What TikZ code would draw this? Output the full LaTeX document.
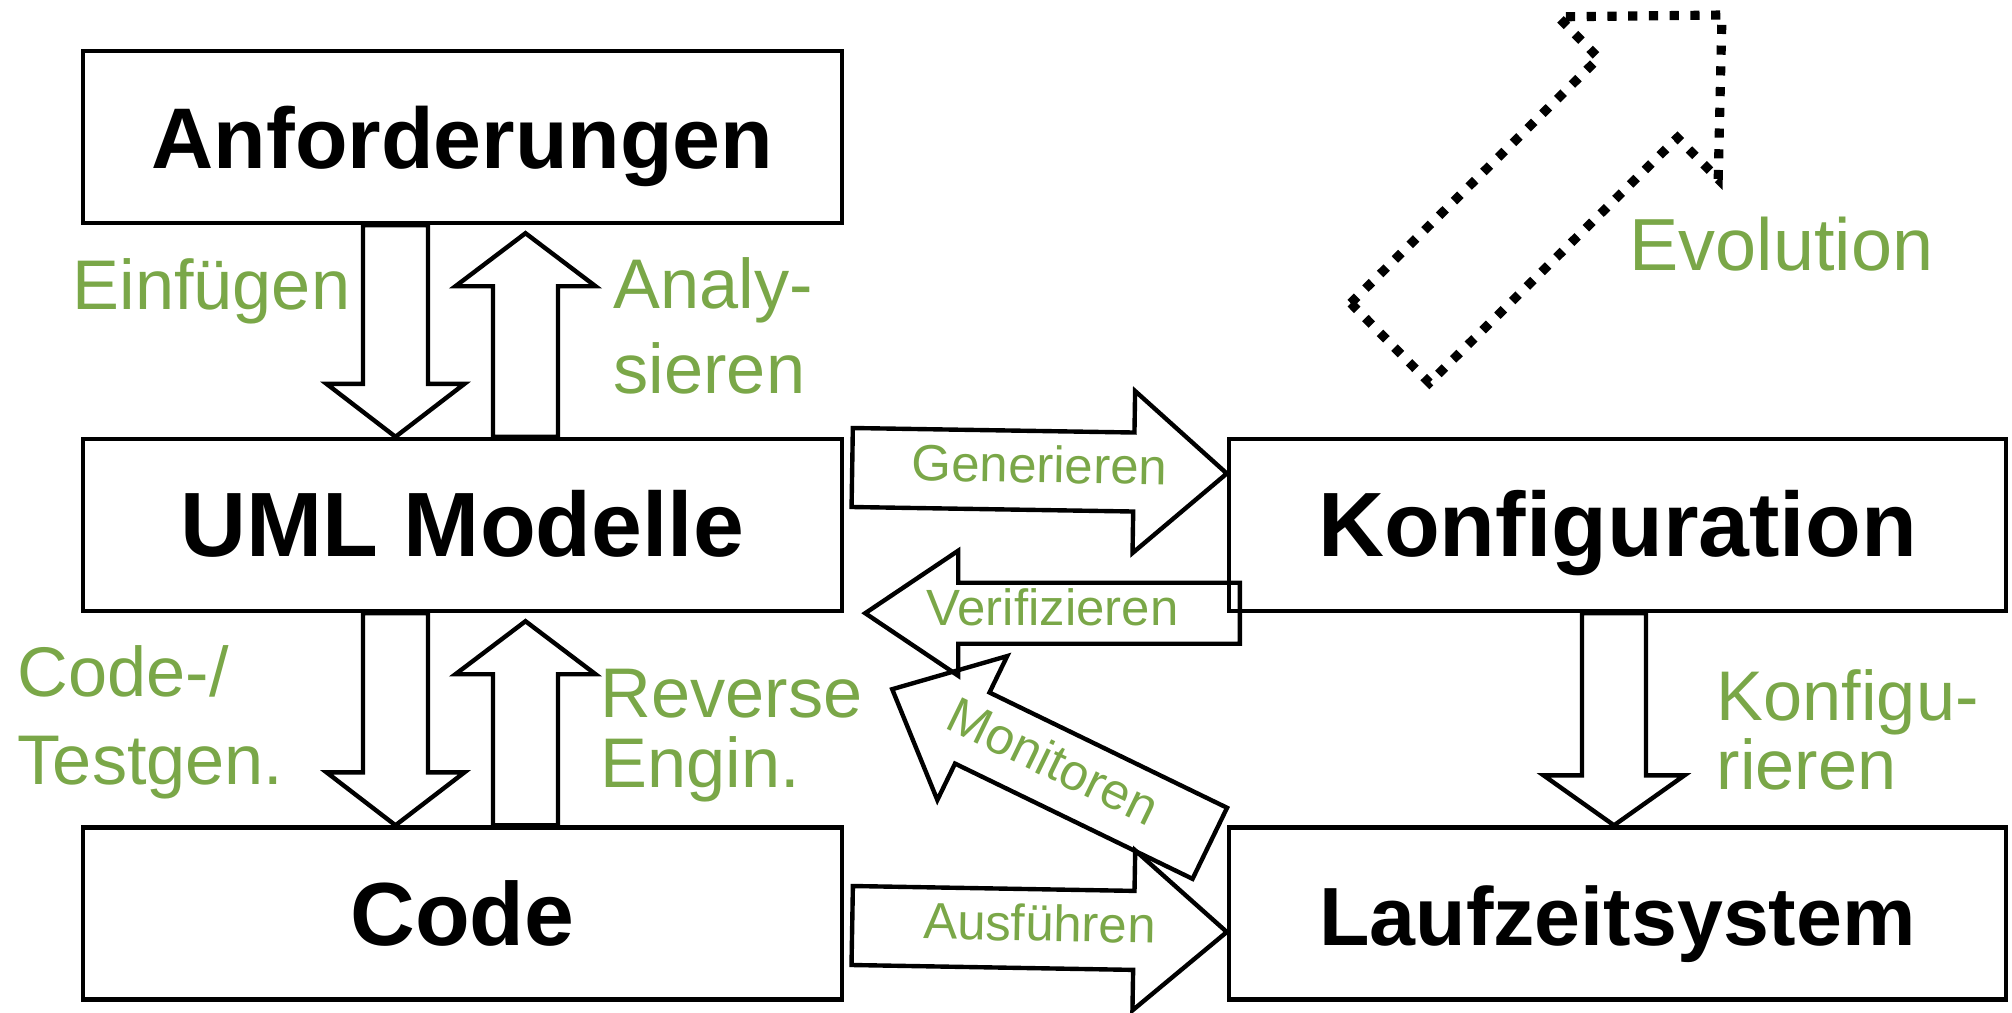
\documentclass[tikz,border=0pt]{standalone}
\usepackage{fontspec}
\setmainfont{Liberation Sans}
\usetikzlibrary{calc}
\definecolor{labelgreen}{RGB}{122,167,72}

\tikzset{
  mainbox/.style={draw, line width=1.25pt, minimum height=1.72cm, text height=0.63cm, text depth=0pt, inner sep=0pt},
  blk/.style={draw, line width=1.25pt, line join=miter},
  evo/.style={line width=2.6pt, dash pattern=on 2.6pt off 3.3pt},
  greenlbl/.style={text=labelgreen, anchor=north west, inner sep=0pt, align=left, font=\fontsize{20}{24.2}\selectfont},
  arrowlbl/.style={text=labelgreen, inner sep=0pt, yshift=0.06cm, font=\fontsize{14.5}{14.5}\selectfont},
}
\newcommand{\boxfont}[1]{\fontsize{#1}{#1}\selectfont\bfseries}

%% block arrow: [style]{tail}{tip}{half shaft}{half head}{head length}{label}
\newcommand{\blockarrow}[7][]{%
  \coordinate (hb) at ($(#3)!#6!(#2)$);
  \draw[blk,#1] ($(#2)!#4!90:(#3)$) -- ($(hb)!#4!90:(#3)$) -- ($(hb)!#5!90:(#3)$) -- (#3)
    -- ($(hb)!#5!-90:(#3)$) -- ($(hb)!#4!-90:(#3)$) -- ($(#2)!#4!-90:(#3)$) -- cycle;
  \if\relax\detokenize{#7}\relax\else
    \path (#2) -- (#3) node[arrowlbl, midway, sloped] (lbl-#2) {#7};
  \fi
}

\begin{document}
\begin{tikzpicture}
    \useasboundingbox (0,0) rectangle (20.12,10.12);
    %% boxes
    \node[mainbox, minimum width=7.59cm, font=\boxfont{24.5}] (anf) at (4.625,8.75) {Anforderungen};
    \node[mainbox, minimum width=7.59cm, font=\boxfont{26}] (uml) at (4.625,4.87) {UML Modelle};
    \node[mainbox, minimum width=7.59cm, font=\boxfont{25.5}] (code) at (4.625,0.985) {Code};
    \node[mainbox, minimum width=7.77cm, font=\boxfont{26}] (konf) at (16.175,4.87) {Konfiguration};
    \node[mainbox, minimum width=7.77cm, font=\boxfont{23.5}] (lauf) at (16.175,0.985) {Laufzeitsystem};
    %% Einfuegen, Analysieren
    \coordinate (ein1) at ([xshift=-0.67cm]anf.south);
    \coordinate (ein2) at ([xshift=-0.67cm]uml.north);
    \blockarrow{ein1}{ein2}{0.325cm}{0.69cm}{0.53cm}{}
    \coordinate (ana1) at ([xshift=0.63cm]uml.north);
    \coordinate (ana2) at ([shift={(0.63,-0.08)}]anf.south);
    \blockarrow{ana1}{ana2}{0.325cm}{0.70cm}{0.53cm}{}
    %% Code-/Testgen., Reverse Engin.
    \coordinate (cg1) at ([xshift=-0.67cm]uml.south);
    \coordinate (cg2) at ([xshift=-0.67cm]code.north);
    \blockarrow{cg1}{cg2}{0.325cm}{0.69cm}{0.53cm}{}
    \coordinate (re1) at ([xshift=0.63cm]code.north);
    \coordinate (re2) at ([shift={(0.63,-0.08)}]uml.south);
    \blockarrow{re1}{re2}{0.325cm}{0.70cm}{0.53cm}{}
    %% Konfigurieren
    \coordinate (kf1) at ([xshift=-0.035cm]konf.south);
    \coordinate (kf2) at ([xshift=-0.035cm]lauf.north);
    \blockarrow{kf1}{kf2}{0.32cm}{0.705cm}{0.50cm}{}
    %% Generieren, Verifizieren
    \coordinate (gen1) at ([shift={(0.08,0.575)}]uml.east);
    \coordinate (gen2) at ([yshift=0.515cm]konf.west);
    \blockarrow{gen1}{gen2}{0.395cm}{0.81cm}{0.93cm}{Generieren}
    \coordinate (ver1) at ([xshift=0.13cm]konf.south west);
    \coordinate (ver2) at ([xshift=0.21cm]uml.south east);
    \blockarrow{ver1}{ver2}{0.305cm}{0.625cm}{0.93cm}{Verifizieren}
    %% Monitoren, Ausfuehren
    \coordinate (mon1) at ([shift={(-0.17,-0.18)}]lauf.north west);
    \coordinate (mon2) at ([shift={(0.48,-0.76)}]uml.south east);
    \blockarrow{mon1}{mon2}{0.395cm}{0.80cm}{0.89cm}{Monitoren}
    \coordinate (aus1) at ([shift={(0.08,-0.12)}]code.east);
    \coordinate (aus2) at ([yshift=-0.185cm]lauf.west);
    \blockarrow{aus1}{aus2}{0.395cm}{0.80cm}{0.93cm}{Ausführen}
    %% Evolution
    \coordinate (evo1) at (13.90,6.69);
    \coordinate (evo2) at (17.22,9.97);
    \blockarrow[evo]{evo1}{evo2}{0.56cm}{1.14cm}{1.18cm}{}
    %% labels
    \node[greenlbl] (einf) at (0.72,7.54) {Einfügen};
    \node[greenlbl] (anal) at (6.13,7.55) {Analy-\\sieren};
    \node[greenlbl, font=\fontsize{20}{25}\selectfont] (cgen) at (0.17,3.67) {Code-/\\Testgen.};
    \node[greenlbl, font=\fontsize{20}{20}\selectfont] (reng) at (6.00,3.44) {Reverse\\Engin.};
    \node[greenlbl, font=\fontsize{20}{19.6}\selectfont] (kfg) at (17.16,3.43) {Konfigu-\\rieren};
    \node[greenlbl, font=\fontsize{21}{21}\selectfont] (evol) at (16.29,7.96) {Evolution};
\end{tikzpicture}
\end{document}
